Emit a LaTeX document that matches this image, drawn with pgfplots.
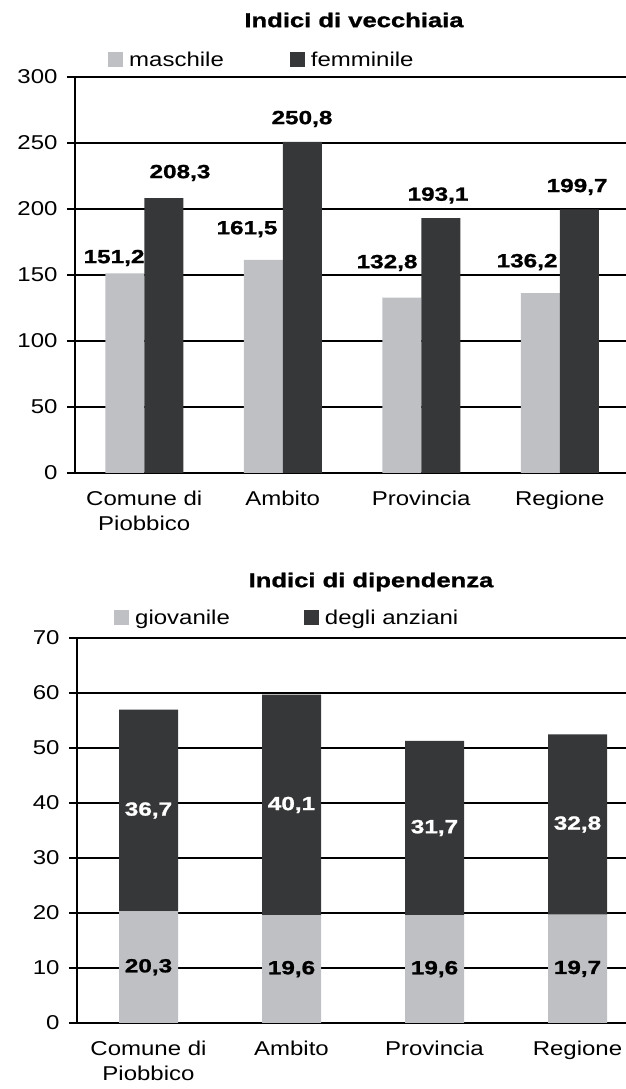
\documentclass[border=0pt]{standalone}
\usepackage{fontspec}
\setmainfont[FakeStretch=1.2]{Liberation Sans}
\newfontfamily\labf[FakeStretch=1.28, BoldFeatures={FakeBold=1.2}]{Liberation Sans}
\usepackage{pgfplots}
\pgfplotsset{compat=1.18}
\definecolor{lgray}{RGB}{190,192,196}
\definecolor{dgray}{RGB}{54,55,57}
\newcommand{\tfont}{\fontsize{20}{25}\selectfont}
\newcommand{\lfont}{\labf\bfseries\fontsize{19}{21}\selectfont}
\pgfplotsset{
  mychart/.style={
    scale only axis,
    axis lines=left,
    axis line style={-, black, line width=1.6pt},
    xmin=-0.5, xmax=3.5, ymin=0,
    xtick={0,1,2,3},
    xticklabels={{Comune di\\Piobbico},Ambito,Provincia,Regione},
    xticklabel style={align=center, font=\tfont, yshift=-6pt},
    yticklabel style={font=\tfont, xshift=-6pt},
    /pgf/number format/assume math mode=true,
    major x tick style={draw=none},
    extra x ticks={-0.5,0.5,1.5,2.5},
    extra x tick labels={},
    extra x tick style={tick style={draw=black, line width=1.4pt}},
    tick align=outside,
    major tick length=8pt,
    ytick style={draw=black, line width=1.4pt},
    ymajorgrids,
    grid style={black, line width=1.1pt},
    legend columns=2,
    legend cell align=left,
  },
  sqlegend/.style={
    legend image code/.code={\fill[##1] (0pt,-7.5pt) rectangle (15pt,7.5pt);},
  }
}
\begin{document}
\begin{tikzpicture}
\path[use as bounding box] (0,0) rectangle (625pt,1089pt);
\node[font=\labf\bfseries\fontsize{20}{24}\selectfont] at (354pt,1069pt) {Indici di vecchiaia};
\begin{axis}[mychart,
  at={(75pt,616pt)}, anchor=south west,
  width=554pt, height=396pt,
  ymax=300, ytick={0,50,...,300},
  sqlegend,
  legend style={draw=none, fill=none, at={(0.0596,1.043)}, anchor=west,
    font=\tfont, inner sep=0pt,
    /tikz/every odd column/.append style={column sep=4pt},
    /tikz/every even column/.append style={column sep=64pt}},
]
\addplot[ybar, bar width=39pt, bar shift=-19.5pt, fill=lgray, draw=none]
  coordinates {(0,151.2) (1,161.5) (2,132.8) (3,136.2)};
\addlegendentry{maschile}
\addplot[ybar, bar width=39pt, bar shift=19.5pt, fill=dgray, draw=none]
  coordinates {(0,208.3) (1,250.8) (2,193.1) (3,199.7)};
\addlegendentry{femminile}
\node[font=\lfont] at (axis cs:-0.218,162.9) {151,2};
\node[font=\lfont] at (axis cs:0.258,227.3) {208,3};
\node[font=\lfont] at (axis cs:0.742,184.8) {161,5};
\node[font=\lfont] at (axis cs:1.139,268.2) {250,8};
\node[font=\lfont] at (axis cs:1.753,159.1) {132,8};
\node[font=\lfont] at (axis cs:2.121,210.2) {193,1};
\node[font=\lfont] at (axis cs:2.764,159.8) {136,2};
\node[font=\lfont] at (axis cs:3.125,216.7) {199,7};
\end{axis}
\node[font=\labf\bfseries\fontsize{20}{24}\selectfont] at (371pt,507pt) {Indici di dipendenza};
\begin{axis}[mychart,
  at={(77pt,66pt)}, anchor=south west,
  width=572pt, height=385pt,
  ybar stacked, bar width=59pt,
  ymax=70, ytick={0,10,...,70},
  sqlegend,
  legend style={draw=none, fill=none, at={(0.0647,1.052)}, anchor=west,
    font=\tfont, inner sep=0pt,
    /tikz/every odd column/.append style={column sep=4pt},
    /tikz/every even column/.append style={column sep=72pt}},
]
\addplot[fill=lgray, draw=none]
  coordinates {(0,20.3) (1,19.6) (2,19.6) (3,19.7)};
\addlegendentry{giovanile}
\addplot[fill=dgray, draw=none]
  coordinates {(0,36.7) (1,40.1) (2,31.7) (3,32.8)};
\addlegendentry{degli anziani}
\end{axis}
\begin{axis}[scale only axis, hide axis,
  at={(77pt,66pt)}, anchor=south west,
  width=572pt, height=385pt,
  xmin=-0.5, xmax=3.5, ymin=0, ymax=70]
\node[font=\lfont] at (axis cs:0,10.15) {20,3};
\node[font=\lfont] at (axis cs:1,9.8) {19,6};
\node[font=\lfont] at (axis cs:2,9.8) {19,6};
\node[font=\lfont] at (axis cs:3,9.85) {19,7};
\node[font=\lfont, text=white] at (axis cs:0,38.65) {36,7};
\node[font=\lfont, text=white] at (axis cs:1,39.65) {40,1};
\node[font=\lfont, text=white] at (axis cs:2,35.45) {31,7};
\node[font=\lfont, text=white] at (axis cs:3,36.1) {32,8};
\end{axis}
\end{tikzpicture}
\end{document}
